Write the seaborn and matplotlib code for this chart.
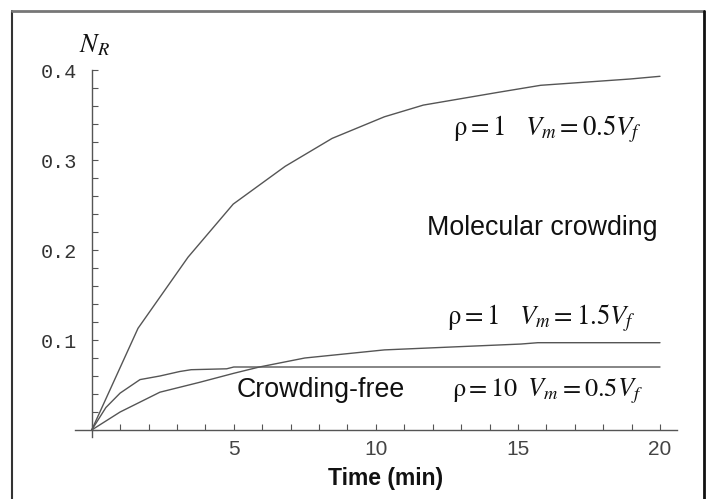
import numpy as np
import pandas as pd
import seaborn as sns
import matplotlib
matplotlib.use("Agg")
import matplotlib.pyplot as plt
from matplotlib.lines import Line2D
from matplotlib.ticker import MultipleLocator, FixedLocator

# ---- data ----
t_mc = [0, 1.63, 3.39, 4.98, 6.81, 8.46, 10.3, 11.67, 14.27, 15.8, 18.95, 20]
n_mc = [0, 0.113, 0.192, 0.251, 0.293, 0.324, 0.348, 0.361, 0.375, 0.383, 0.390, 0.393]

t_m15 = [0, 1.0, 2.4, 3.8, 5.0, 5.9, 7.5, 10.3, 12.5, 15.1, 15.7, 20]
n_m15 = [0, 0.020, 0.042, 0.053, 0.063, 0.070, 0.080, 0.089, 0.092, 0.0955, 0.097, 0.097]

t_r10 = [0, 0.5, 1.0, 1.7, 2.4, 3.1, 3.5, 4.75, 5.0, 5.9, 20]
n_r10 = [0, 0.025, 0.041, 0.056, 0.060, 0.065, 0.067, 0.068, 0.070, 0.070, 0.070]

series_names = ["rho1_Vm05", "rho1_Vm15", "rho10_Vm05"]
x_ticks = [5, 10, 15, 20]
y_ticks = [0.1, 0.2, 0.3, 0.4]
y_ticklabels = ["0.1", "0.2", "0.3", "0.4"]

df = pd.concat([
    pd.DataFrame({"t": t_mc, "n": n_mc, "s": series_names[0]}),
    pd.DataFrame({"t": t_m15, "n": n_m15, "s": series_names[1]}),
    pd.DataFrame({"t": t_r10, "n": n_r10, "s": series_names[2]}),
])

sns.set_theme(style="white")
plt.rcParams["mathtext.fontset"] = "stix"
plt.rcParams["font.family"] = ["Liberation Sans", "DejaVu Sans"]

W, H = 710, 499
fig = plt.figure(figsize=(W / 100, H / 100), dpi=100)

# layout in pixels
x0px, x20px = 91.7, 660.0
ux = (x20px - x0px) / 20.0
y0px, y4px = 430.0, 70.0
uy = (y0px - y4px) / 0.4
xmin, xmax = -0.6, 20.6
ymin, ymax = -0.008, 0.4
left = (x0px + xmin * ux) / W
right = (x0px + xmax * ux) / W
top_px = y0px - ymax * uy
bot_px = y0px - ymin * uy
ax = fig.add_axes([left, 1 - bot_px / H, right - left, (bot_px - top_px) / H])

gray = "#555555"
sns.lineplot(data=df, x="t", y="n", hue="s", units="s", estimator=None, sort=False,
             palette=[gray] * 3, legend=False, linewidth=1.0, ax=ax)

ax.set_xlim(xmin, xmax)
ax.set_ylim(ymin, ymax)
for s in ["top", "right"]:
    ax.spines[s].set_visible(False)
ax.spines["left"].set_position(("data", 0))
ax.spines["bottom"].set_position(("data", 0))
for s in ["left", "bottom"]:
    ax.spines[s].set_color(gray)
    ax.spines[s].set_linewidth(1.0)
ax.patch.set_alpha(0)

ax.xaxis.set_major_locator(FixedLocator(x_ticks))
ax.xaxis.set_minor_locator(MultipleLocator(1))
ax.yaxis.set_major_locator(FixedLocator(y_ticks))
ax.yaxis.set_minor_locator(MultipleLocator(0.02))
ax.set_yticklabels(y_ticklabels)
ax.tick_params(axis="both", which="both", direction="in", length=4, width=0.8,
               color=gray, bottom=True, left=True)
ax.tick_params(axis="y", which="major", pad=10.5, labelsize=14.5, labelcolor="#333333")
ax.tick_params(axis="x", which="major", pad=7, labelsize=15, labelcolor="#444444")
for lab in ax.get_yticklabels():
    lab.set_fontfamily("Liberation Mono")
ax.set_xlabel("")
ax.set_ylabel("")

def dx(px):
    return (px - x0px) / ux

def dy(py):
    return (y0px - py) / uy

# axis annotations
fig.text(386 / W, 1 - 478 / H, "Time (min)", ha="center", va="center",
         fontsize=16.5, fontweight="bold", color="#111111")
fig.text(79 / W, 1 - 52 / H, r"$N_R$", ha="left", va="baseline", fontsize=19, color="#111111")

txtc = "#111111"
ax.text(dx(427), dy(235), "Molecular crowding", ha="left", va="baseline", fontsize=19.3, color=txtc)
ax.text(dx(237), dy(397), "Crowding-free", ha="left", va="baseline", fontsize=19.3, color=txtc)
ax.text(dx(453), dy(135), r"$\mathrm{\rho} = 1\quad V_m = 0.5V_f$", ha="left", va="baseline",
        fontsize=19.3, color=txtc)
ax.text(dx(447), dy(324), r"$\mathrm{\rho} = 1\quad V_m = 1.5V_f$", ha="left", va="baseline",
        fontsize=19.3, color=txtc)
ax.text(dx(452), dy(396), r"$\mathrm{\rho} = 10\;\; V_m = 0.5V_f$", ha="left", va="baseline",
        fontsize=19, color=txtc)

# frame around the figure
fig.add_artist(Line2D([12 / W, 12 / W], [0, 1 - 11 / H], transform=fig.transFigure,
                      color="#333333", lw=1.5))
fig.add_artist(Line2D([12 / W, 704 / W], [1 - 11 / H, 1 - 11 / H], transform=fig.transFigure,
                      color="#777777", lw=2))
fig.add_artist(Line2D([704 / W, 704 / W], [0, 1 - 11 / H], transform=fig.transFigure,
                      color="#111111", lw=2))

fig.savefig("out.png", dpi=100)
